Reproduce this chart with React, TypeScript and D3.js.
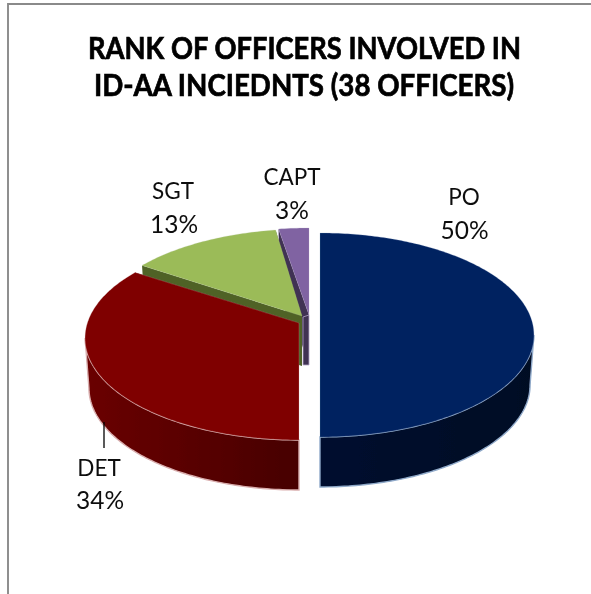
import React from "react";
import * as d3 from "d3";

const categories = ["PO", "DET", "SGT", "CAPT"];
const officers = [19, 13, 5, 1];
const percentLabels = ["50%", "34%", "13%", "3%"];
const titleLines = ["RANK OF OFFICERS INVOLVED IN", "ID-AA INCIEDNTS (38 OFFICERS)"];
const topColors = ["#002060", "#7f0000", "#9bbb59", "#8064a2"];
const cutColors = ["#000d2b", "#4a0000", "#4f6228", "#403152"];
const wallStart = ["#00102f", "#470000", "#4f6228", "#403152"];
const wallEnd = ["#000a24", "#6a0000", "#4f6228", "#403152"];
const haloColors = ["#8fa9c9", "#d9aeae", "#b7c99a", "#b3a5c6"];
const centerX = [320, 299, 306, 309];
const apexX = [320, 299, 302, 309];
const centerY = [320, 323, 316, 315];

const W = 591, H = 594;
const A = 211.6, B = 99.8, K = 0.147, DEPTH = 50;

const pie = d3.pie<number>().sort(null).startAngle(0).endAngle(2 * Math.PI);
const arcs = pie(officers);

function project(i: number, t: number, z: number): [number, number] {
  const d = 1 + K * Math.cos(t);
  const s = 1 - 0.018 * z;
  return [
    centerX[i] + (A * s * Math.sin(t)) / d,
    centerY[i] - (B * Math.cos(t)) / d + DEPTH * z,
  ];
}
const apex = (i: number, z: number): [number, number] => [apexX[i], centerY[i] + DEPTH * z];
const line = d3.line();
const rim = (i: number, a: number, b: number, z: number) => {
  const n = Math.max(2, Math.ceil(Math.abs(b - a) * 60));
  return d3.range(n + 1).map((j) => project(i, a + ((b - a) * j) / n, z));
};
const topPath = (i: number) => line([apex(i, 0), ...rim(i, arcs[i].startAngle, arcs[i].endAngle, 0)])! + "Z";
const cutPath = (i: number, t: number) => line([apex(i, 0), project(i, t, 0), project(i, t, 1), apex(i, 1)])! + "Z";
const wallPath = (i: number) => {
  const f0 = Math.acos(-K), f1 = 2 * Math.PI - f0;
  const a = Math.max(arcs[i].startAngle, f0), b = Math.min(arcs[i].endAngle, f1);
  if (b <= a) return null;
  return line([...rim(i, a, b, 0), ...rim(i, b, a, 1)])! + "Z";
};
// The thin inner post of the smallest slice, from its apex straight down by the pie's depth.
const postPath = (i: number) =>
  line([[apexX[i] - 6, centerY[i] + 2], apex(i, 0), apex(i, 1), [apexX[i] - 6, centerY[i] + DEPTH]])! + "Z";

const drawOrder = [3, 2, 1, 0];

export default function App() {
  return (
    <svg width={W} height={H} viewBox={`0 0 ${W} ${H}`} style={{ position: "absolute", left: 0, top: 0, background: "#fff" }}>
      <defs>
        <filter id="soft" x="-5%" y="-5%" width="110%" height="110%"><feGaussianBlur stdDeviation="0.55" /></filter>
        {categories.map((c, i) => (
          <linearGradient key={c} id={`wall${i}`} x1="0" x2="1" y1="0" y2="0">
            <stop offset="0" stopColor={i === 1 ? wallEnd[i] : wallStart[i]} />
            <stop offset="1" stopColor={i === 1 ? wallStart[i] : wallEnd[i]} />
          </linearGradient>
        ))}
      </defs>
      <path d={`M8,594 V4 H591`} fill="none" stroke="#8a8a8a" strokeWidth={1.9} />
      <g fontFamily="Lato, Carlito, sans-serif" fontWeight={700} fontSize={31} textAnchor="middle" fill="#000" stroke="#000" strokeWidth={0.7} filter="url(#soft)">
        <text x={304.5} y={59} textLength={433} lengthAdjust="spacingAndGlyphs">{titleLines[0]}</text>
        <text x={304} y={96} textLength={420} lengthAdjust="spacingAndGlyphs">{titleLines[1]}</text>
      </g>
      <g filter="url(#soft)">
        {drawOrder.map((i) => {
          const w = wallPath(i);
          return (
            <g key={categories[i]}>
              <path d={cutPath(i, arcs[i].startAngle)} fill={cutColors[i]} />
              <path d={cutPath(i, arcs[i].endAngle)} fill={cutColors[i]} />
              {i === 3 && <path d={postPath(i)} fill={cutColors[i]} stroke={haloColors[i]} strokeWidth={0.8} />}
              {w && <path d={w} fill={`url(#wall${i})`} stroke={haloColors[i]} strokeWidth={1.4} />}
              <path d={topPath(i)} fill={topColors[i]} stroke={haloColors[i]} strokeWidth={0.6} strokeOpacity={0.4} />
            </g>
          );
        })}
      </g>
      <line x1={104} x2={104} y1={422} y2={448} stroke="#000" strokeWidth={1.3} />
      <g fontFamily="Lato, Carlito, sans-serif" fontSize={22.5} textAnchor="middle" fill="#111" filter="url(#soft)">
        <text x={464} y={205}>{categories[0]}</text>
        <text x={464.5} y={239} fontSize={24.5}>{percentLabels[0]}</text>
        <text x={99} y={476}>{categories[1]}</text>
        <text x={100} y={509} fontSize={24.5}>{percentLabels[1]}</text>
        <text x={173} y={199}>{categories[2]}</text>
        <text x={174} y={233} fontSize={24.5}>{percentLabels[2]}</text>
        <text x={292} y={185}>{categories[3]}</text>
        <text x={292} y={219} fontSize={24.5}>{percentLabels[3]}</text>
      </g>
    </svg>
  );
}
